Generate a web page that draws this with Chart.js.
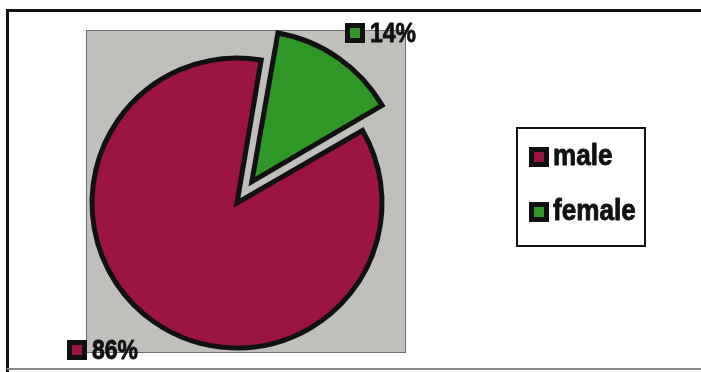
<!DOCTYPE html>
<html>
<head>
<meta charset="utf-8">
<script src="https://cdn.jsdelivr.net/npm/chart.js@4.4.1/dist/chart.umd.min.js"></script>
<style>
  html, body { margin: 0; padding: 0; background: #ffffff; }
  #wrap { position: relative; width: 701px; height: 372px; }
  canvas { display: block; }
</style>
</head>
<body>
<div id="wrap"><canvas id="c" width="701" height="372"></canvas></div>
<script>
// Gender split of respondents (percent)
const categories = ['male', 'female'];
const shares = [86, 14];
const sliceColors = ['#9c1542', '#2f9726'];
// Chart.js translates an arc by offset/4, so 104 pulls the female slice out ~26px
const sliceOffsets = [0, 104];

const FONT = '"Liberation Sans", Arial, Helvetica, sans-serif';

// Heavy condensed text: glyphs squeezed horizontally and thickened with a thin stroke
function condensedText(ctx, text, x, y, size, squeeze) {
  ctx.save();
  ctx.font = 'bold ' + size + 'px ' + FONT;
  ctx.translate(x, y);
  ctx.scale(squeeze, 1);
  ctx.fillStyle = '#111';
  ctx.strokeStyle = '#111';
  ctx.lineWidth = 0.9;
  ctx.lineJoin = 'round';
  ctx.fillText(text, 0, 0);
  ctx.strokeText(text, 0, 0);
  ctx.restore();
}

// Frame, grey plot panel, value labels and legend box
const decor = {
  id: 'decor',
  beforeDatasetsDraw(chart) {
    const ctx = chart.ctx;
    ctx.save();
    // outer frame
    ctx.strokeStyle = '#111';
    ctx.lineWidth = 3;
    ctx.beginPath();
    ctx.moveTo(701, 10.5); ctx.lineTo(7.5, 10.5); ctx.lineTo(7.5, 372);
    ctx.stroke();
    ctx.strokeStyle = '#8a8a8a';
    ctx.lineWidth = 2;
    ctx.beginPath();
    ctx.moveTo(7, 369); ctx.lineTo(701, 369);
    ctx.stroke();
    // grey panel behind the pie
    ctx.fillStyle = '#c1bfbc';
    ctx.fillRect(86, 30, 320, 323);
    ctx.strokeStyle = '#6f6f6f';
    ctx.lineWidth = 1;
    ctx.strokeRect(86.5, 30.5, 319, 322);
    ctx.restore();
  },
  afterDraw(chart) {
    const ctx = chart.ctx;
    const data = chart.data.datasets[0].data;
    const total = data.reduce((a, b) => a + b, 0);
    const colors = chart.data.datasets[0].backgroundColor;

    function marker(x, y, color) {
      ctx.fillStyle = '#111';
      ctx.fillRect(x, y, 20, 20);
      ctx.fillStyle = color;
      ctx.fillRect(x + 5, y + 5, 10, 10);
    }

    ctx.save();
    ctx.textBaseline = 'middle';
    ctx.textAlign = 'left';

    // value labels
    const labelPos = [[67, 340], [345, 23]];
    data.forEach((v, i) => {
      const [x, y] = labelPos[i];
      marker(x, y, colors[i]);
      condensedText(ctx, Math.round(v / total * 100) + '%', x + 25, y + 11, 28, 0.82);
    });

    // legend
    ctx.fillStyle = '#fff';
    ctx.fillRect(517, 128, 128, 118);
    ctx.strokeStyle = '#111';
    ctx.lineWidth = 2;
    ctx.strokeRect(517, 128, 128, 118);
    chart.data.labels.forEach((lab, i) => {
      const y = 147 + i * 55;
      marker(529, y, colors[i]);
      condensedText(ctx, lab, 553, y + 10, 30, 0.87);
    });
    ctx.restore();
  }
};

new Chart(document.getElementById('c'), {
  type: 'pie',
  data: {
    labels: categories,
    datasets: [{
      data: shares,
      backgroundColor: sliceColors,
      borderColor: '#111',
      borderWidth: 5,
      borderJoinStyle: 'miter',
      offset: sliceOffsets
    }]
  },
  options: {
    responsive: false,
    animation: false,
    events: [],
    rotation: 60,
    radius: 145,
    layout: { padding: { top: 34, left: 0, right: 227, bottom: 0 } },
    plugins: {
      legend: { display: false },
      tooltip: { enabled: false }
    }
  },
  plugins: [decor]
});
</script>
</body>
</html>
